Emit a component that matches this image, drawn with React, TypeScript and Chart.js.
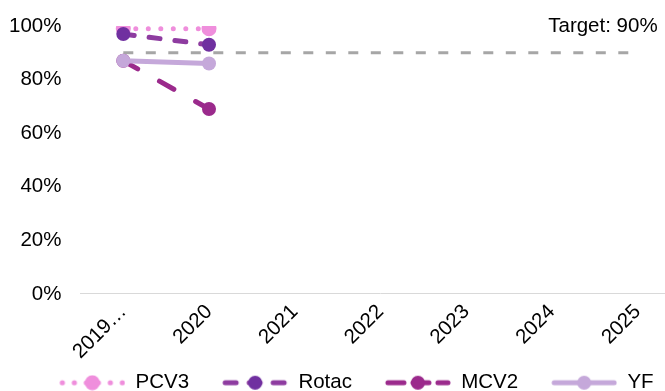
import React, { useEffect, useRef } from "react";
import { Chart, registerables } from "chart.js";

Chart.register(...registerables);

const categories = ["2019…", "2020", "2021", "2022", "2023", "2024", "2025"];
const pcv3 = [99, 99, null, null, null, null, null];
const rotac = [97, 93, null, null, null, null, null];
const mcv2 = [87, 69, null, null, null, null, null];
const yf = [87, 86, null, null, null, null, null];
const target = [90, 90, 90, 90, 90, 90, 90];
const targetLabel = "Target: 90%";
const seriesNames = ["PCV3", "Rotac", "MCV2", "YF"];

const FONT = "Arial, 'Liberation Sans', sans-serif";
const FS = 20.5;

const C_PCV3 = "#EF8EDC";
const C_ROTAC_LINE = "#8E3CA0";
const C_ROTAC_PT = "#7030A0";
const C_MCV2 = "#9B2A8C";
const C_YF = "#C5A8DA";
const C_TARGET = "#A6A6A6";

const LEG_GAP = 33;
const LEG_W = 66;

function legendImage(kind: number): HTMLCanvasElement {
  const w = LEG_W + LEG_GAP, h = 16;
  const c = document.createElement("canvas");
  c.width = w; c.height = h;
  const ctx = c.getContext("2d")!;
  ctx.translate(LEG_GAP, 0);
  const cy = h / 2;
  const cx = LEG_W / 2;
  ctx.lineWidth = 5;
  if (kind === 0) {
    ctx.fillStyle = C_PCV3;
    for (let x = 3; x < LEG_W; x += 12) {
      ctx.beginPath(); ctx.arc(x, cy, 2.6, 0, Math.PI * 2); ctx.fill();
    }
    ctx.beginPath(); ctx.arc(cx, cy, 7.5, 0, Math.PI * 2); ctx.fill();
  } else if (kind === 1) {
    ctx.strokeStyle = C_ROTAC_LINE; ctx.lineCap = "round";
    ctx.setLineDash([11, 13]);
    ctx.beginPath(); ctx.moveTo(3, cy); ctx.lineTo(LEG_W - 3, cy); ctx.stroke();
    ctx.fillStyle = C_ROTAC_PT;
    ctx.beginPath(); ctx.arc(cx, cy, 7, 0, Math.PI * 2); ctx.fill();
  } else if (kind === 2) {
    ctx.strokeStyle = C_MCV2; ctx.lineCap = "round";
    ctx.setLineDash([16, 9]);
    ctx.beginPath(); ctx.moveTo(3, cy); ctx.lineTo(LEG_W - 3, cy); ctx.stroke();
    ctx.fillStyle = C_MCV2;
    ctx.beginPath(); ctx.arc(cx, cy, 7, 0, Math.PI * 2); ctx.fill();
  } else {
    ctx.strokeStyle = C_YF; ctx.lineCap = "round";
    ctx.beginPath(); ctx.moveTo(3, cy); ctx.lineTo(LEG_W - 3, cy); ctx.stroke();
    ctx.fillStyle = C_YF;
    ctx.beginPath(); ctx.arc(cx, cy, 7, 0, Math.PI * 2); ctx.fill();
  }
  return c;
}

const targetTextPlugin = {
  id: "targetText",
  afterDatasetsDraw(chart: any) {
    const { ctx, scales } = chart;
    const x = scales.x.getPixelForValue(categories.length - 1) + 20;
    const y = scales.y.getPixelForValue(100);
    ctx.save();
    ctx.font = `${FS}px ${FONT}`;
    ctx.fillStyle = "#000";
    ctx.textAlign = "right";
    ctx.textBaseline = "middle";
    ctx.fillText(targetLabel, x, y);
    ctx.restore();
  },
};

export default function App() {
  const ref = useRef<HTMLCanvasElement | null>(null);
  useEffect(() => {
    document.body.style.margin = "0";
    const imgs = [0, 1, 2, 3].map(legendImage);
    const chart = new Chart(ref.current!, {
      type: "line",
      data: {
        labels: categories,
        datasets: [
          {
            label: seriesNames[0], data: pcv3, borderColor: C_PCV3, backgroundColor: C_PCV3,
            borderWidth: 5, borderDash: [0.001, 12.5], borderCapStyle: "round",
            pointRadius: 7.5, pointBorderWidth: 0, pointBackgroundColor: C_PCV3, order: 3,
          },
          {
            label: seriesNames[1], data: rotac, borderColor: C_ROTAC_LINE, backgroundColor: C_ROTAC_PT,
            borderWidth: 5, borderDash: [11, 15], borderCapStyle: "round",
            pointRadius: 7, pointBorderWidth: 0, pointBackgroundColor: C_ROTAC_PT, order: 1,
          },
          {
            label: seriesNames[2], data: mcv2, borderColor: C_MCV2, backgroundColor: C_MCV2,
            borderWidth: 5, borderDash: [16.5, 25], borderCapStyle: "round",
            pointRadius: 7, pointBorderWidth: 0, pointBackgroundColor: C_MCV2, order: 2,
          },
          {
            label: seriesNames[3], data: yf, borderColor: C_YF, backgroundColor: C_YF,
            borderWidth: 5, borderCapStyle: "round",
            pointRadius: 7, pointBorderWidth: 0, pointBackgroundColor: C_YF, order: 0,
          },
          {
            label: "Target", data: target, borderColor: C_TARGET, backgroundColor: C_TARGET,
            borderWidth: 3, borderDash: [10, 12.5], pointRadius: 0, order: 4,
          },
        ],
      } as any,
      options: {
        responsive: false,
        animation: false,
        layout: { padding: { top: 26, left: 9, right: 0, bottom: 0 } },
        font: { family: FONT, size: FS },
        plugins: {
          tooltip: { enabled: false },
          legend: {
            position: "bottom",
            labels: {
              color: "#000",
              font: { family: FONT, size: FS },
              usePointStyle: true,
              pointStyleWidth: LEG_W + LEG_GAP,
              padding: 0,
              generateLabels: () =>
                seriesNames.map((n, i) => ({
                  text: i === seriesNames.length - 1 ? n + "   " : n,
                  pointStyle: imgs[i],
                  fillStyle: "transparent",
                  strokeStyle: "transparent",
                  lineWidth: 0,
                  hidden: false,
                  datasetIndex: i,
                  fontColor: "#000",
                })),
            },
          },
        },
        scales: {
          x: {
            offset: true,
            grid: { display: false, drawTicks: false },
            border: { display: true, color: "#D9D9D9", width: 1 },
            ticks: {
              color: "#000", font: { family: FONT, size: FS },
              minRotation: 45, maxRotation: 45, autoSkip: false, padding: 6,
            },
            afterFit: (scale: any) => {
              scale.paddingLeft = 0;
              scale.paddingRight = 0;
              scale.height += 2.5;
            },
          },
          y: {
            min: 0, max: 100,
            grid: { display: false, drawTicks: false },
            border: { display: false },
            ticks: {
              stepSize: 20, color: "#000", font: { family: FONT, size: FS }, padding: 19,
              callback: (v: any) => `${v}%`,
            },
            afterFit: (scale: any) => {
              scale.width -= 19;
              scale.paddingTop = 0;
              scale.paddingBottom = 0;
            },
          },
        },
      } as any,
      plugins: [targetTextPlugin],
    });
    return () => chart.destroy();
  }, []);
  return (
    <div style={{ position: "absolute", left: 0, top: 0, width: 665, height: 391, overflow: "hidden" }}>
      <canvas ref={ref} width={688} height={403} style={{ display: "block" }} />
    </div>
  );
}
